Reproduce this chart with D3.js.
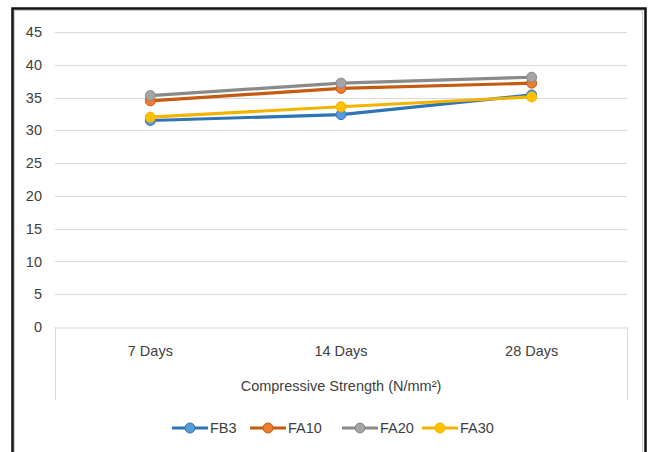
<!DOCTYPE html>
<html>
<head>
<meta charset="utf-8">
<script src="https://cdn.jsdelivr.net/npm/d3@7"></script>
<style>
  html, body { margin: 0; padding: 0; background: #fff; }
  svg { display: block; font-family: "Liberation Sans Narrow", "Liberation Sans", Arial, sans-serif; }
</style>
</head>
<body>
<svg id="chart" width="648" height="452"></svg>
<script>
const categories = ["7 Days", "14 Days", "28 Days"];
const seriesNames = ["FB3", "FA10", "FA20", "FA30"];
const fb3  = [31.5, 32.4, 35.4];
const fa10 = [34.5, 36.4, 37.2];
const fa20 = [35.3, 37.2, 38.1];
const fa30 = [32.0, 33.6, 35.1];
const yTicks = [0, 5, 10, 15, 20, 25, 30, 35, 40, 45];
const axisTitle = "Compressive Strength (N/mm²)";

(function () {
  const series = [
    { name: seriesNames[0], values: fb3,  line: "#2E75B6", fill: "#5B9BD5" },
    { name: seriesNames[1], values: fa10, line: "#C55A11", fill: "#ED7D31" },
    { name: seriesNames[2], values: fa20, line: "#8A8A8A", fill: "#A5A5A5" },
    { name: seriesNames[3], values: fa30, line: "#F2B400", fill: "#FFC000" }
  ];

  const svg = d3.select("#chart");
  const plot = { left: 55, right: 627, top: 32, bottom: 327 };
  const fs = "14.5px";

  // chart frame
  svg.append("rect").attr("x", 14.5).attr("y", 10.5).attr("width", 628).attr("height", 460)
    .attr("fill", "none").attr("stroke", "#c8c8c8").attr("stroke-width", 1);
  svg.append("rect").attr("x", 12.5).attr("y", 8.5).attr("width", 633).attr("height", 470)
    .attr("fill", "none").attr("stroke", "#111").attr("stroke-width", 2.5);

  const x = d3.scaleBand().domain(categories).range([plot.left, plot.right]);
  const y = d3.scaleLinear().domain([0, 45]).range([plot.bottom, plot.top]);

  // gridlines
  svg.append("g").selectAll("line").data(yTicks.filter(t => t > 0)).join("line")
    .attr("x1", plot.left).attr("x2", plot.right)
    .attr("y1", d => Math.round(y(d)) + 0.5).attr("y2", d => Math.round(y(d)) + 0.5)
    .attr("stroke", "#d9d9d9").attr("stroke-width", 1);

  // y axis labels (no line)
  const yAxis = svg.append("g").attr("transform", `translate(${plot.left - 13},0)`)
    .call(d3.axisLeft(y).tickValues(yTicks).tickSize(0).tickPadding(0));
  yAxis.select(".domain").remove();
  yAxis.selectAll("text").attr("font-size", fs).attr("fill", "#404040")
    .attr("font-family", "Liberation Sans Narrow, Liberation Sans, sans-serif");

  // category axis: baseline plus end dividers
  const xAxis = svg.append("g").attr("transform", `translate(0,${Math.round(plot.bottom) + 0.5})`)
    .call(d3.axisBottom(x).tickSize(0).tickPadding(18));
  xAxis.select(".domain").attr("stroke", "#d9d9d9");
  xAxis.selectAll("text").attr("font-size", fs).attr("fill", "#404040")
    .attr("font-family", "Liberation Sans Narrow, Liberation Sans, sans-serif");
  [plot.left, plot.right].forEach(px => {
    svg.append("line").attr("x1", px + 0.5).attr("x2", px + 0.5)
      .attr("y1", plot.bottom).attr("y2", 400).attr("stroke", "#d9d9d9");
  });

  svg.append("text").attr("x", (plot.left + plot.right) / 2).attr("y", 391)
    .attr("text-anchor", "middle").attr("font-size", fs).attr("fill", "#404040")
    .text(axisTitle);

  // lines and markers
  const cx = (d, i) => x(categories[i]) + x.bandwidth() / 2;
  const line = d3.line().x(cx).y(d => y(d));
  series.forEach(s => {
    const g = svg.append("g");
    g.append("path").datum(s.values).attr("d", line)
      .attr("fill", "none").attr("stroke", s.line).attr("stroke-width", 3.2)
      .attr("stroke-linejoin", "round");
    g.selectAll("circle").data(s.values).join("circle")
      .attr("cx", cx).attr("cy", d => y(d)).attr("r", 5)
      .attr("fill", s.fill).attr("stroke", s.line).attr("stroke-width", 1);
  });

  // legend
  const legendX = [172, 250, 342, 422];
  const lg = svg.append("g").attr("transform", "translate(0,428)");
  series.forEach((s, i) => {
    const lx = legendX[i];
    lg.append("line").attr("x1", lx).attr("x2", lx + 36).attr("y1", 0).attr("y2", 0)
      .attr("stroke", s.line).attr("stroke-width", 3.2);
    lg.append("circle").attr("cx", lx + 18).attr("cy", 0).attr("r", 5)
      .attr("fill", s.fill).attr("stroke", s.line).attr("stroke-width", 1);
    lg.append("text").attr("x", lx + 38).attr("y", 5)
      .attr("font-size", fs).attr("fill", "#404040").text(s.name);
  });
})();
</script>
</body>
</html>
